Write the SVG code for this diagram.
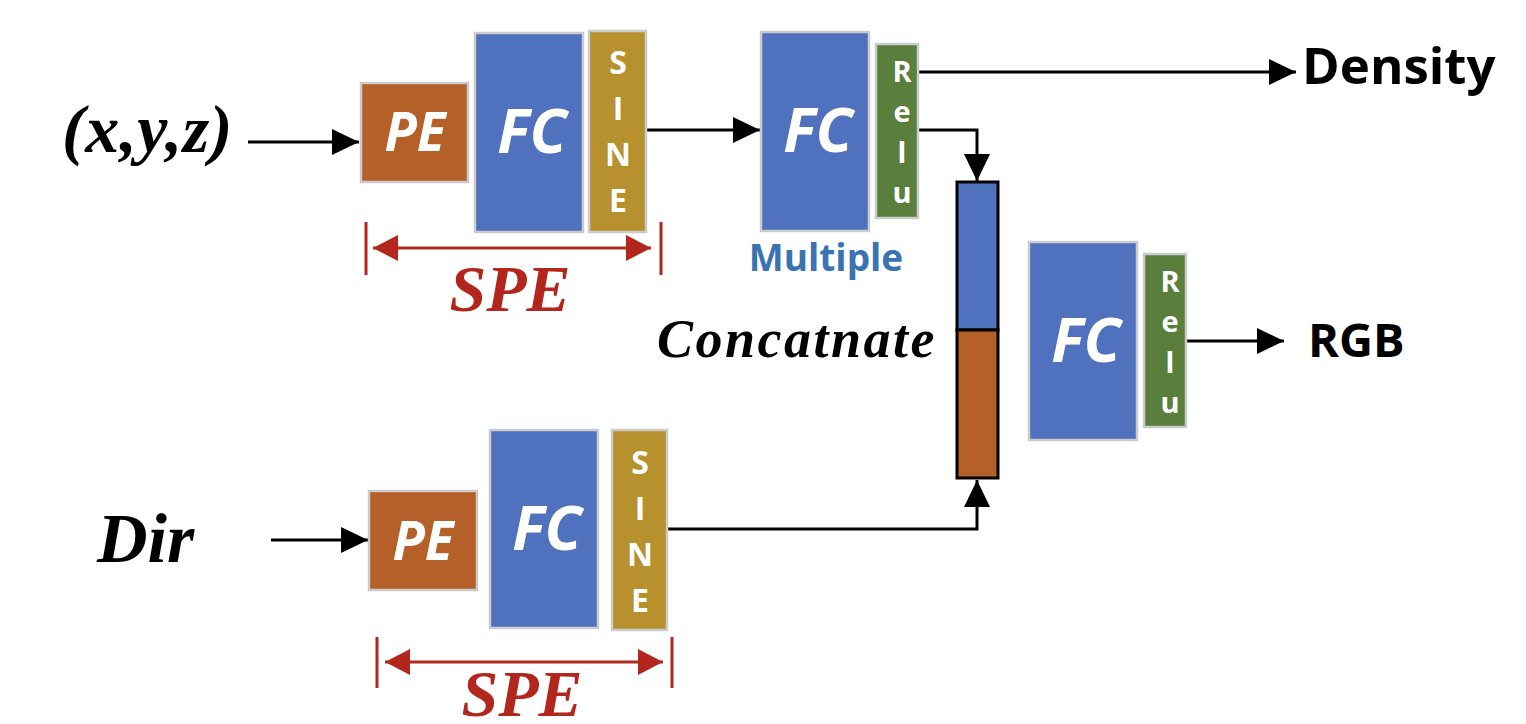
<svg xmlns="http://www.w3.org/2000/svg" width="1526" height="724" viewBox="0 0 1526 724">
<style>
.box{stroke:#cccccc;stroke-width:2.5}
.pe{fill:#b55f29}
.fc{fill:#5071be}
.sine{fill:#b8912f}
.relu{fill:#5a7e3b}
.wl{fill:#ffffff;font-family:"Open Sans","Liberation Sans",sans-serif;font-weight:bold;font-style:italic;text-anchor:middle}
.wv{fill:#ffffff;font-family:"Open Sans","Liberation Sans",sans-serif;font-weight:bold;text-anchor:middle}
.ser{font-family:"Liberation Serif","Times New Roman",serif;font-weight:bold;font-style:italic}
.sans{font-family:"Open Sans","Liberation Sans",sans-serif;font-weight:bold}
.conn{fill:none;stroke:#000000;stroke-width:3}
.red{fill:none;stroke:#b3261e;stroke-width:3}
</style>
<defs>
<marker id="ah" markerUnits="userSpaceOnUse" markerWidth="28" markerHeight="26" refX="27" refY="13" orient="auto">
<path d="M0,0 L27,13 L0,26 Z" fill="#000000"/>
</marker>
<marker id="rh" markerUnits="userSpaceOnUse" markerWidth="26" markerHeight="26" refX="25" refY="13" orient="auto-start-reverse">
<path d="M0,0 L25,13 L0,26 Z" fill="#b3261e"/>
</marker>
</defs>
<rect width="1526" height="724" fill="#ffffff"/>

<g id="connectors">
<line class="conn" x1="248" y1="142" x2="359" y2="142" marker-end="url(#ah)"/>
<line class="conn" x1="646" y1="130" x2="760" y2="130" marker-end="url(#ah)"/>
<line class="conn" x1="918" y1="72" x2="1296" y2="72" marker-end="url(#ah)"/>
<polyline class="conn" points="918,130 977,130 977,181" marker-end="url(#ah)"/>
<line class="conn" x1="271" y1="540" x2="368" y2="540" marker-end="url(#ah)"/>
<polyline class="conn" points="667,529 977,529 977,480" marker-end="url(#ah)"/>
<line class="conn" x1="1186" y1="341" x2="1284" y2="341" marker-end="url(#ah)"/>
</g>

<g id="xyz"><text class="ser" x="62" y="152" font-size="68" letter-spacing="0.5">(x,y,z)</text></g>
<g id="dir"><text class="ser" x="97" y="562" font-size="70">Dir</text></g>

<g id="pe1">
<rect class="box pe" x="361" y="83" width="107" height="99"/>
<text class="wl" x="415" y="151" font-size="53">PE</text>
</g>
<g id="fc1">
<rect class="box fc" x="475" y="33" width="108" height="199"/>
<text class="wl" x="532" y="153" font-size="61">FC</text>
</g>
<g id="sine1">
<rect class="box sine" x="589" y="31" width="57" height="201"/>
<text class="wv" x="618" y="74" font-size="32">S</text>
<text class="wv" x="618" y="120" font-size="32">I</text>
<text class="wv" x="618" y="166" font-size="32">N</text>
<text class="wv" x="618" y="212" font-size="32">E</text>
</g>
<g id="spe1">
<line class="red" x1="366" y1="222" x2="366" y2="275"/>
<line class="red" x1="661" y1="222" x2="661" y2="275"/>
<line class="red" x1="373" y1="248" x2="651" y2="248" marker-start="url(#rh)" marker-end="url(#rh)"/>
<text class="ser" x="510" y="311" font-size="66" fill="#b3261e" text-anchor="middle">SPE</text>
</g>

<g id="fc2">
<rect class="box fc" x="761" y="32" width="108" height="199"/>
<text class="wl" x="818" y="152" font-size="61">FC</text>
<text class="sans" x="826" y="271" font-size="37" fill="#3a73b2" text-anchor="middle">Multiple</text>
</g>
<g id="relu1">
<rect class="box relu" x="876" y="44" width="42" height="174"/>
<text class="wv" x="902" y="82" font-size="29">R</text>
<text class="wv" x="902" y="122" font-size="29">e</text>
<text class="wv" x="902" y="163" font-size="29">l</text>
<text class="wv" x="902" y="203" font-size="29">u</text>
</g>

<g id="density"><text class="sans" x="1302" y="84" font-size="51">Density</text></g>

<g id="concat">
<rect x="957" y="182" width="41" height="148" fill="#5071be" stroke="#000000" stroke-width="3"/>
<rect x="957" y="330" width="41" height="148" fill="#b55f29" stroke="#000000" stroke-width="3"/>
<text class="ser" x="657" y="357" font-size="54" letter-spacing="2.5">Concatnate</text>
</g>

<g id="fc3">
<rect class="box fc" x="1029" y="242" width="108" height="198"/>
<text class="wl" x="1086" y="362" font-size="61">FC</text>
</g>
<g id="relu2">
<rect class="box relu" x="1144" y="254" width="42" height="173"/>
<text class="wv" x="1170" y="292" font-size="29">R</text>
<text class="wv" x="1170" y="332" font-size="29">e</text>
<text class="wv" x="1170" y="373" font-size="29">l</text>
<text class="wv" x="1170" y="413" font-size="29">u</text>
</g>
<g id="rgb"><text class="sans" x="1308" y="357" font-size="47">RGB</text></g>

<g id="pe2">
<rect class="box pe" x="369" y="491" width="108" height="99"/>
<text class="wl" x="423" y="560" font-size="53">PE</text>
</g>
<g id="fc4">
<rect class="box fc" x="490" y="430" width="108" height="198"/>
<text class="wl" x="547" y="550" font-size="61">FC</text>
</g>
<g id="sine2">
<rect class="box sine" x="612" y="430" width="55" height="200"/>
<text class="wv" x="640" y="474" font-size="32">S</text>
<text class="wv" x="640" y="520" font-size="32">I</text>
<text class="wv" x="640" y="566" font-size="32">N</text>
<text class="wv" x="640" y="612" font-size="32">E</text>
</g>
<g id="spe2">
<line class="red" x1="377" y1="637" x2="377" y2="688"/>
<line class="red" x1="672" y1="637" x2="672" y2="688"/>
<line class="red" x1="385" y1="662" x2="663" y2="662" marker-start="url(#rh)" marker-end="url(#rh)"/>
<text class="ser" x="522" y="716" font-size="66" fill="#b3261e" text-anchor="middle">SPE</text>
</g>
</svg>
